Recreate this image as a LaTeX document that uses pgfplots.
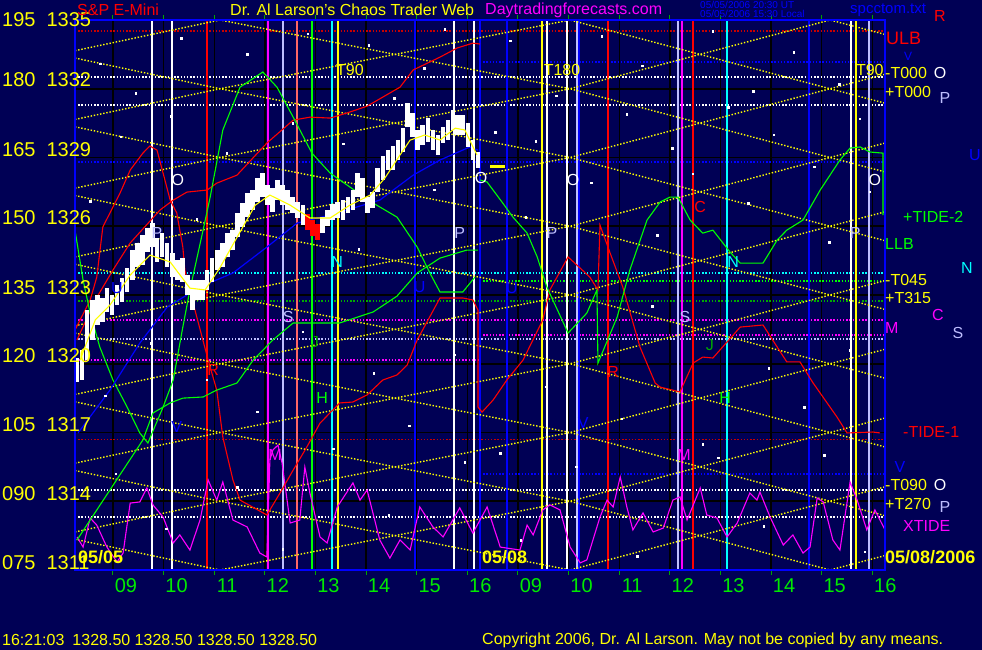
\documentclass[border=0pt]{standalone}
\usepackage{fontspec}
\setmainfont{Liberation Sans}
\usepackage{pgfplots}
\pgfplotsset{compat=1.18}

\definecolor{bg}{RGB}{0,0,85}
\definecolor{yel}{RGB}{255,255,0}
\definecolor{grid}{RGB}{0,165,0}
\definecolor{bgrn}{RGB}{0,255,0}
\definecolor{hgrn}{RGB}{0,235,0}
\definecolor{rd}{RGB}{255,0,0}
\definecolor{drd}{RGB}{200,0,0}
\definecolor{mag}{RGB}{255,0,255}
\definecolor{cy}{RGB}{0,255,255}
\definecolor{lav}{RGB}{190,190,255}
\definecolor{bl}{RGB}{0,0,255}
\definecolor{dgrn}{RGB}{0,170,0}

\tikzset{
  dots/.style={line width=1.4pt, dash pattern=on 1.4pt off 1.8pt},
  big/.style={font=\fontsize{20}{20}\selectfont, inner sep=0pt},
  mid/.style={font=\fontsize{16}{16}\selectfont, inner sep=0pt},
  sml/.style={font=\fontsize{10}{10}\selectfont, inner sep=0pt},
}

\begin{document}
\begin{tikzpicture}[x=1pt,y=1pt]
\fill[bg] (0,0) rectangle (982,650);
\useasboundingbox (0,0) rectangle (982,650);

\begin{axis}[
  at={(75pt,80pt)}, anchor=south west,
  width=810pt, height=550pt, scale only axis,
  xmin=0, xmax=16, ymin=1311, ymax=1335,
  axis line style={bl, line width=2.5pt},
  axis on top,
  ytick=\empty,
  xtick={0.75,1.75,2.75,3.75,4.75,5.75,6.75,7.75,8.75,9.75,10.75,11.75,12.75,13.75,14.75,15.75},
  xticklabels={09,10,11,12,13,14,15,16,09,10,11,12,13,14,15,16},
  xticklabel style={text=hgrn, font=\fontsize{20}{20}\selectfont, xshift=13pt},
  tick align=outside, major tick length=5pt,
  xtick style={draw=grid, line width=1pt},
]

% horizontal grid
\addplot[xcomb, grid, line width=1.6pt, forget plot] coordinates {
 (16,1314)(16,1317)(16,1320)(16,1323)(16,1326)(16,1329)(16,1332)};
% vertical hour lines
\addplot[ycomb, grid, line width=1.4pt, forget plot] coordinates {
 (0.75,1335)(1.75,1335)(2.75,1335)(3.75,1335)(4.75,1335)(5.75,1335)(6.75,1335)(7.75,1335)
 (8.75,1335)(9.75,1335)(10.75,1335)(11.75,1335)(12.75,1335)(13.75,1335)(14.75,1335)(15.75,1335)};

% horizontal dotted levels
\addplot[xcomb, drd, dots, forget plot] coordinates {(16,1334.52)(16,1316.7)};
\addplot[xcomb, white, dots, forget plot] coordinates {(16,1332.51)(16,1331.29)(16,1314.49)(16,1313.31)};
\addplot[xcomb, bl, dots, forget plot] coordinates {(16,1328.80)};
\addplot[xcomb, cy, dots, forget plot] coordinates {(16,1323.96)};
\addplot[xcomb, dgrn, dots, forget plot] coordinates {(16,1322.74)};
\addplot[xcomb, mag, dots, forget plot] coordinates {(16,1321.91)};
\addplot[xcomb, lav, dots, forget plot] coordinates {(16,1321.08)};
\addplot[mag, dots, forget plot] coordinates {(0,1320.16)(8,1320.16)};
\addplot[mag, dots, forget plot] coordinates {(8,1321.25)(16,1321.25)};
\addplot[bl, dots, forget plot] coordinates {(8,1333.16)(16,1333.16)};
\addplot[bl, dots, forget plot] coordinates {(8,1315.19)(16,1315.19)};
\addplot[bgrn, dots, forget plot] coordinates {(8,1323.61)(16,1323.61)};

% vertical event lines
\addplot[ycomb, white, line width=1.3pt, forget plot] coordinates {(1.521,1335)(1.916,1335)(7.486,1335)(7.881,1335)(9.323,1335)(9.719,1335)(15.328,1335)};
\addplot[ycomb, lav, line width=1.3pt, forget plot] coordinates {(4.109,1335)(9.916,1335)(11.911,1335)(15.684,1335)};
\addplot[ycomb, rd, line width=1.3pt, forget plot] coordinates {(2.607,1335)(10.528,1335)(12.207,1335)};
\addplot[ycomb, rd!60!white, line width=1.3pt, forget plot] coordinates {(4.385,1335)};
\addplot[ycomb, mag, line width=1.3pt, forget plot] coordinates {(3.812,1335)(11.99,1335)};
\addplot[ycomb, bgrn, line width=1.3pt, forget plot] coordinates {(4.681,1335)};
\addplot[ycomb, cy, line width=1.3pt, forget plot] coordinates {(5.077,1335)(12.879,1335)};
\addplot[ycomb, yel, line width=1.3pt, forget plot] coordinates {(5.195,1335)(9.225,1335)(15.427,1335)};
\addplot[ycomb, bl, line width=1.3pt, forget plot] coordinates {(6.716,1335)(8.533,1335)(9.956,1335)(14.499,1335)};
\addplot[ycomb, bl, line width=2.5pt, forget plot] coordinates {(8.0,1335)};

% angle lattice, falling family
\addplot[yel, dots, forget plot] coordinates {(0,1312.34)(2.864,1311)(9.778,1308)(14.914,1305)(16,1304.37)};
\addplot[yel, dots, forget plot] coordinates {(0,1315.34)(2.864,1314)(9.778,1311)(14.914,1308)(16,1307.37)};
\addplot[yel, dots, forget plot] coordinates {(0,1318.34)(2.864,1317)(9.778,1314)(14.914,1311)(16,1310.37)};
\addplot[yel, dots, forget plot] coordinates {(0,1321.34)(2.864,1320)(9.778,1317)(14.914,1314)(16,1313.37)};
\addplot[yel, dots, forget plot] coordinates {(0,1324.34)(2.864,1323)(9.778,1320)(14.914,1317)(16,1316.37)};
\addplot[yel, dots, forget plot] coordinates {(0,1327.34)(2.864,1326)(9.778,1323)(14.914,1320)(16,1319.37)};
\addplot[yel, dots, forget plot] coordinates {(0,1330.34)(2.864,1329)(9.778,1326)(14.914,1323)(16,1322.37)};
\addplot[yel, dots, forget plot] coordinates {(0,1333.34)(2.864,1332)(9.778,1329)(14.914,1326)(16,1325.37)};
\addplot[yel, dots, forget plot] coordinates {(0,1336.34)(2.864,1335)(9.778,1332)(14.914,1329)(16,1328.37)};
\addplot[yel, dots, forget plot] coordinates {(0,1339.34)(2.864,1338)(9.778,1335)(14.914,1332)(16,1331.37)};
\addplot[yel, dots, forget plot] coordinates {(0,1342.34)(2.864,1341)(9.778,1338)(14.914,1335)(16,1334.37)};
% angle lattice, rising family
\addplot[yel, dots, forget plot] coordinates {(0,1303.66)(2.864,1305)(9.778,1308)(14.914,1311)(16,1311.63)};
\addplot[yel, dots, forget plot] coordinates {(0,1306.66)(2.864,1308)(9.778,1311)(14.914,1314)(16,1314.63)};
\addplot[yel, dots, forget plot] coordinates {(0,1309.66)(2.864,1311)(9.778,1314)(14.914,1317)(16,1317.63)};
\addplot[yel, dots, forget plot] coordinates {(0,1312.66)(2.864,1314)(9.778,1317)(14.914,1320)(16,1320.63)};
\addplot[yel, dots, forget plot] coordinates {(0,1315.66)(2.864,1317)(9.778,1320)(14.914,1323)(16,1323.63)};
\addplot[yel, dots, forget plot] coordinates {(0,1318.66)(2.864,1320)(9.778,1323)(14.914,1326)(16,1326.63)};
\addplot[yel, dots, forget plot] coordinates {(0,1321.66)(2.864,1323)(9.778,1326)(14.914,1329)(16,1329.63)};
\addplot[yel, dots, forget plot] coordinates {(0,1324.66)(2.864,1326)(9.778,1329)(14.914,1332)(16,1332.63)};
\addplot[yel, dots, forget plot] coordinates {(0,1327.66)(2.864,1329)(9.778,1332)(14.914,1335)(16,1335.63)};
\addplot[yel, dots, forget plot] coordinates {(0,1330.66)(2.864,1332)(9.778,1335)(14.914,1338)(16,1338.63)};
\addplot[yel, dots, forget plot] coordinates {(0,1333.66)(2.864,1335)(9.778,1338)(14.914,1341)(16,1341.63)};

% background stars
\addplot[only marks, mark=square*, mark size=0.8pt, white, forget plot] coordinates {
(0.5,1333.1)(1.2,1331.8)(2.1,1334.2)(3.4,1333.5)(4.6,1334.4)(5.8,1333.9)(6.9,1332.9)(7.3,1334.6)(8.6,1334.1)(9.5,1331.7)(10.4,1334.3)(11.2,1333.0)(12.6,1334.5)(13.4,1331.9)(14.2,1333.6)(15.1,1332.2)
(0.9,1329.9)(1.9,1330.8)(3.0,1329.2)(4.3,1330.5)(5.3,1329.6)(6.3,1331.6)(8.3,1330.1)(9.1,1329.7)(10.9,1330.9)(11.8,1329.4)(12.9,1331.2)(13.8,1330.0)(14.6,1328.6)(15.5,1330.7)
(0.3,1327.1)(2.4,1326.3)(5.6,1325.0)(7.1,1327.6)(8.9,1326.4)(10.2,1327.9)(11.5,1325.6)(12.2,1328.3)(13.3,1327.0)(14.9,1325.3)(15.7,1327.5)
(0.6,1318.6)(1.5,1320.9)(2.6,1319.3)(3.6,1317.9)(4.5,1321.4)(5.9,1319.6)(6.6,1317.3)(7.5,1320.4)(8.4,1316.1)(9.3,1319.0)(10.8,1317.6)(11.4,1322.5)(12.4,1316.5)(13.7,1319.8)(14.4,1318.1)(15.3,1320.6)
(0.8,1315.2)(1.8,1312.8)(3.2,1314.6)(4.1,1311.9)(5.1,1316.3)(6.2,1313.4)(7.7,1315.7)(8.8,1312.3)(9.9,1315.5)(11.1,1311.6)(12.7,1315.9)(13.6,1312.9)(14.8,1316.0)(15.6,1311.8)};

% XTIDE
\addplot[mag, line width=1.1pt, forget plot] coordinates {
(0.04,1312.44)(0.16,1312.00)(0.30,1313.27)(0.43,1312.96)(0.63,1312.00)(0.83,1311.35)(0.95,1311.74)(1.09,1313.92)(1.28,1313.97)(1.42,1314.58)(1.54,1313.84)(1.74,1313.31)(1.94,1312.18)(2.07,1312.53)(2.27,1311.87)(2.47,1313.18)(2.63,1314.93)(2.80,1314.05)(2.92,1314.84)(3.12,1313.18)(3.40,1312.88)(3.65,1311.74)(3.79,1311.57)(3.85,1315.80)(3.91,1316.24)(4.01,1316.45)(4.09,1315.67)(4.25,1313.05)(4.44,1313.18)(4.54,1315.49)(4.64,1314.36)(4.84,1312.44)(4.98,1312.18)(5.18,1313.75)(5.49,1314.80)(5.63,1314.05)(5.77,1314.49)(6.02,1312.31)(6.22,1311.52)(6.42,1312.31)(6.62,1311.87)(6.81,1313.75)(7.07,1312.88)(7.27,1312.44)(7.60,1313.71)(7.86,1312.61)(8.14,1313.75)(8.40,1312.00)(8.79,1311.87)(8.93,1312.96)(9.05,1312.53)(9.24,1313.62)(9.38,1313.84)(9.58,1313.62)(9.78,1312.00)(9.98,1311.31)(10.11,1311.44)(10.37,1313.31)(10.51,1314.05)(10.63,1313.75)(10.77,1315.06)(10.90,1313.75)(11.02,1312.75)(11.22,1313.49)(11.42,1312.66)(11.62,1312.83)(11.81,1314.05)(11.95,1314.19)(12.09,1313.18)(12.35,1314.58)(12.48,1313.40)(12.68,1313.27)(12.88,1312.44)(13.08,1313.05)(13.33,1314.36)(13.47,1314.05)(13.53,1314.40)(13.73,1313.31)(13.99,1312.09)(14.18,1312.53)(14.38,1311.74)(14.52,1312.00)(14.66,1314.14)(14.78,1313.97)(14.97,1312.31)(15.11,1311.87)(15.31,1314.84)(15.45,1314.05)(15.64,1312.75)(15.80,1313.62)(16.00,1312.75)};

% slow red line
\addplot[rd, line width=1.1pt, forget plot] coordinates {
(0.04,1321.04)(0.40,1322.78)(0.75,1324.09)(1.09,1325.27)(1.68,1326.71)(1.94,1327.14)(2.21,1327.49)(2.61,1327.58)(2.80,1327.88)(3.20,1328.23)(3.79,1329.63)(4.31,1330.63)(4.64,1330.76)(5.04,1330.72)(5.37,1330.94)(5.77,1331.24)(6.42,1332.07)(6.68,1332.82)(7.21,1333.38)(7.55,1333.78)(7.86,1333.99)(8.00,1333.95)};

% TIDE-1
\addplot[rd, line width=1.1pt, forget plot] coordinates {
(0,1321.47)(0.30,1322.78)(0.43,1323.78)(0.55,1325.97)(0.89,1327.45)(1.09,1328.45)(1.34,1329.19)(1.48,1329.50)(1.62,1329.32)(1.74,1328.32)(1.88,1327.14)(2.01,1326.58)(2.13,1325.09)(2.17,1324.09)(2.37,1322.34)(2.63,1320.16)(2.80,1318.85)(2.92,1316.80)(3.12,1314.93)(3.26,1314.05)(3.79,1313.40)(4.05,1314.36)(4.31,1315.36)(4.58,1316.37)(4.84,1317.41)(5.23,1318.29)(5.49,1318.33)(5.77,1318.64)(6.08,1319.29)(6.36,1319.51)(6.56,1319.94)(6.76,1321.04)(7.21,1322.87)(7.66,1322.87)(7.86,1322.78)(7.96,1322.34)(7.96,1318.11)(8.04,1317.89)(8.26,1318.42)(8.53,1319.29)(8.85,1320.16)(9.24,1321.91)(9.38,1323.22)(9.74,1324.66)(10.17,1323.78)(10.33,1323.22)(10.37,1326.05)(10.57,1324.83)(10.82,1323.35)(11.16,1320.73)(11.46,1319.16)(11.56,1318.98)(11.95,1318.77)(12.21,1320.03)(12.40,1320.29)(12.60,1320.25)(13.14,1321.60)(13.59,1321.69)(14.06,1320.08)(14.32,1320.08)(14.58,1319.16)(15.05,1317.68)(15.25,1316.98)(15.76,1317.02)(15.90,1316.98)};

% TIDE-2 and companions
\addplot[bgrn, line width=1.1pt, forget plot] coordinates {
(0,1325.83)(0.16,1323.65)(0.30,1322.21)(0.49,1320.73)(0.75,1319.29)(1.03,1318.11)(1.28,1316.98)(1.44,1316.54)(1.74,1318.11)(1.94,1319.29)(2.13,1321.60)(2.27,1323.22)(2.53,1325.83)(2.67,1327.27)(2.92,1330.20)(3.26,1332.07)(3.71,1332.73)(3.99,1332.07)(4.31,1330.76)(4.68,1329.19)(5.04,1328.32)(5.43,1327.71)(5.89,1327.01)(6.36,1326.40)(6.76,1325.09)(7.01,1323.96)(7.21,1323.13)(7.66,1323.13)(7.90,1323.78)};
\addplot[bgrn, line width=1.1pt, forget plot] coordinates {
(0.04,1312.31)(1.34,1316.67)(1.54,1317.85)(1.88,1318.29)(2.13,1318.50)(2.53,1318.55)(2.80,1318.85)(3.20,1319.16)(3.52,1320.16)(3.91,1321.04)(4.31,1321.78)(5.23,1321.78)(5.89,1322.26)(6.36,1322.95)(6.76,1323.96)(7.21,1324.61)(7.74,1324.96)(7.96,1324.96)};
\addplot[bgrn, line width=1.1pt, forget plot] coordinates {
(8.00,1328.02)(8.14,1327.93)(8.45,1327.01)(8.65,1326.40)(8.93,1325.70)(9.13,1324.66)(9.32,1323.35)(9.74,1321.34)(10.11,1322.21)(10.31,1323.22)(10.33,1320.03)(10.71,1322.04)(10.96,1324.09)(11.30,1326.27)(11.56,1327.06)(11.75,1327.27)(11.91,1327.27)(12.15,1326.27)(12.40,1325.70)(12.60,1325.83)(12.94,1324.87)(13.14,1324.39)(13.59,1324.39)(13.87,1325.40)(14.06,1325.83)(14.38,1326.27)(14.72,1327.58)(15.11,1328.89)(15.31,1329.41)(15.51,1329.46)(15.70,1329.24)(15.96,1329.19)(15.96,1326.49)};

% averages
\addplot[bl, line width=1.2pt, forget plot] coordinates {
(0.06,1316.98)(0.69,1318.85)(1.28,1320.90)(1.82,1322.47)(2.47,1323.35)(3.12,1323.96)(3.79,1325.09)(4.39,1326.14)(5.04,1326.49)(6.02,1327.14)(6.68,1328.23)(7.21,1328.89)(7.80,1329.46)(7.96,1329.32)};

% price bars
\addplot[draw=none, mark=none, forget plot, error bars/.cd, y dir=both, y explicit,
  error bar style={white, line width=4.6pt}, error mark=none] coordinates {
(0.04,1319.73)+-(0,0.52) (0.14,1319.94)+-(0,0.65) (0.24,1321.25)+-(0,1.09) (0.34,1321.91)+-(0,0.87)
(0.44,1322.34)+-(0,0.65) (0.54,1322.34)+-(0,0.52) (0.63,1322.78)+-(0,0.52) (0.73,1322.56)+-(0,0.44)
(0.83,1323.00)+-(0,0.44) (0.93,1323.22)+-(0,0.52) (1.03,1323.65)+-(0,0.52) (1.13,1324.31)+-(0,0.65)
(1.23,1324.74)+-(0,0.52) (1.33,1324.96)+-(0,0.65) (1.43,1325.40)+-(0,0.52) (1.53,1325.62)+-(0,0.52)
(1.62,1324.96)+-(0,0.52) (1.72,1325.18)+-(0,0.52) (1.82,1324.74)+-(0,0.52) (1.92,1324.31)+-(0,0.52)
(2.02,1324.09)+-(0,0.44) (2.12,1324.09)+-(0,0.52) (2.22,1323.43)+-(0,0.44) (2.32,1323.00)+-(0,0.65)
(2.42,1323.22)+-(0,0.44) (2.52,1323.22)+-(0,0.44) (2.61,1323.65)+-(0,0.44) (2.71,1324.09)+-(0,0.52)
(2.81,1324.53)+-(0,0.44) (2.91,1324.74)+-(0,0.52) (3.01,1325.18)+-(0,0.52) (3.11,1325.40)+-(0,0.44)
(3.21,1326.05)+-(0,0.52) (3.31,1326.49)+-(0,0.52) (3.41,1326.92)+-(0,0.52) (3.51,1327.14)+-(0,0.44)
(3.60,1327.58)+-(0,0.52) (3.70,1327.80)+-(0,0.52) (3.80,1327.36)+-(0,0.44) (3.90,1327.14)+-(0,0.52)
(4.00,1327.58)+-(0,0.44) (4.10,1327.36)+-(0,0.44) (4.20,1327.14)+-(0,0.44) (4.30,1326.92)+-(0,0.35)
(4.40,1326.71)+-(0,0.35) (4.50,1326.49)+-(0,0.44)
(4.89,1326.05)+-(0,0.35) (4.99,1326.36)+-(0,0.35) (5.09,1326.62)+-(0,0.35) (5.19,1326.71)+-(0,0.35)
(5.29,1326.71)+-(0,0.44) (5.39,1326.92)+-(0,0.35) (5.49,1327.14)+-(0,0.44) (5.58,1327.80)+-(0,0.52)
(5.68,1327.58)+-(0,0.52) (5.78,1326.92)+-(0,0.35) (5.88,1327.14)+-(0,0.35) (5.98,1328.02)+-(0,0.52)
(6.08,1328.54)+-(0,0.52) (6.18,1328.89)+-(0,0.44) (6.28,1328.98)+-(0,0.52) (6.38,1329.32)+-(0,0.44)
(6.48,1329.76)+-(0,0.52) (6.57,1330.85)+-(0,0.52) (6.67,1330.42)+-(0,0.52) (6.77,1329.76)+-(0,0.44)
(6.87,1329.98)+-(0,0.44) (6.97,1330.20)+-(0,0.52) (7.07,1329.76)+-(0,0.44) (7.17,1329.54)+-(0,0.44)
(7.27,1329.98)+-(0,0.35) (7.37,1330.20)+-(0,0.44) (7.47,1330.63)+-(0,0.44) (7.56,1330.42)+-(0,0.44)
(7.66,1330.42)+-(0,0.44) (7.76,1329.98)+-(0,0.52) (7.86,1329.32)+-(0,0.44) (7.96,1328.89)+-(0,0.35)};
\addplot[draw=none, mark=none, forget plot, error bars/.cd, y dir=both, y explicit,
  error bar style={rd, line width=4.6pt}, error mark=none] coordinates {
(4.59,1326.18)+-(0,0.35) (4.69,1325.92)+-(0,0.35) (4.79,1325.75)+-(0,0.35)};

\addplot[yel, line width=1.1pt, forget plot] coordinates {
(0.10,1320.16)(0.40,1321.91)(0.69,1322.56)(1.09,1323.87)(1.48,1324.74)(1.88,1324.44)(2.27,1323.30)(2.57,1323.22)(2.86,1324.18)(3.26,1325.75)(3.56,1326.92)(3.85,1327.36)(4.25,1326.92)(4.64,1326.36)(5.04,1326.36)(5.43,1326.92)(5.83,1327.36)(6.12,1328.10)(6.42,1329.11)(6.62,1329.76)(6.91,1329.98)(7.21,1329.76)(7.51,1330.28)(7.70,1330.20)(7.94,1329.11)};
\addplot[yel, line width=2.5pt, forget plot] coordinates {(8.2,1328.6)(8.5,1328.6)};

% in-chart marks
\node[mid, text=yel] at (axis cs:5.43,1332.82) {T90};
\node[mid, text=yel] at (axis cs:9.62,1332.82) {T180};
\node[mid, text=yel] at (axis cs:15.70,1332.82) {T90};
\node[mid, text=white] at (axis cs:2.03,1328.02) {O};
\node[mid, text=white] at (axis cs:9.84,1328.02) {O};
\node[mid, text=white] at (axis cs:15.80,1328.02) {O};
\node[mid, text=white] at (axis cs:8.02,1328.10) {O};
\node[mid, text=lav] at (axis cs:1.62,1325.70) {P};
\node[mid, text=lav] at (axis cs:7.60,1325.70) {P};
\node[mid, text=lav] at (axis cs:9.42,1325.70) {P};
\node[mid, text=lav] at (axis cs:15.41,1325.70) {P};
\node[mid, text=bl] at (axis cs:0.83,1323.30) {U};
\node[mid, text=bl] at (axis cs:6.81,1323.35) {U};
\node[mid, text=bl] at (axis cs:8.63,1323.30) {U};
\node[mid, text=bl] at (axis cs:2.01,1317.24) {V};
\node[mid, text=bl] at (axis cs:10.04,1317.41) {V};
\node[mid, text=rd] at (axis cs:2.73,1319.73) {R};
\node[mid, text=rd] at (axis cs:10.63,1319.64) {R};
\node[mid, text=lav] at (axis cs:4.21,1322.04) {S};
\node[mid, text=lav] at (axis cs:12.05,1322.04) {S};
\node[mid, text=bgrn] at (axis cs:4.88,1318.50) {H};
\node[mid, text=bgrn] at (axis cs:12.84,1318.50) {H};
\node[mid, text=dgrn] at (axis cs:4.74,1320.95) {J};
\node[mid, text=dgrn] at (axis cs:12.54,1320.82) {J};
\node[mid, text=cy] at (axis cs:5.18,1324.44) {N};
\node[mid, text=cy] at (axis cs:13.00,1324.44) {N};
\node[mid, text=rd] at (axis cs:12.35,1326.84) {C};
\node[mid, text=mag] at (axis cs:3.95,1316.02) {M};
\node[mid, text=mag] at (axis cs:12.03,1316.02) {M};
\end{axis}

% price scale
\foreach \py/\a/\b in {20/195/1335, 80/180/1332, 150/165/1329, 218/150/1326, 288/135/1323, 356/120/1320, 425/105/1317, 494/090/1314, 563/075/1311}
  \node[big, text=yel, anchor=west] at (2,650-\py) {\a\hspace{11pt}\b};

% titles
\node[mid, text=rd, anchor=west] at (77,640) {S\&P E-Mini};
\node[mid, text=yel, anchor=west] at (230,640) {Dr. Al Larson's Chaos Trader Web};
\node[mid, text=mag, anchor=west] at (485,640) {Daytradingforecasts.com};
\node[sml, text=bl, anchor=west] at (700,645) {05/05/2006 20:30 UT};
\node[sml, text=bl, anchor=west] at (700,636) {05/05/2006 15:30 Local};
\node[font=\fontsize{15}{15}\selectfont, inner sep=0pt, text=bl, anchor=west] at (850,640) {spcctom.txt};
\node[mid, text=rd] at (940,634) {R};

% date marks
\node[font=\fontsize{18}{18}\selectfont\bfseries, inner sep=0pt, text=yel, anchor=west] at (78,93) {05/05};
\node[font=\fontsize{18}{18}\selectfont\bfseries, inner sep=0pt, text=yel, anchor=west] at (482,93) {05/08};
\node[font=\fontsize{18}{18}\selectfont\bfseries, inner sep=0pt, text=yel, anchor=west] at (885,93) {05/08/2006};

% right side legend
\node[font=\fontsize{18}{18}\selectfont, inner sep=0pt, text=rd, anchor=west] at (886,612) {ULB};
\node[font=\fontsize{12}{12}\selectfont, inner sep=0pt, text=bl] at (908,594) {V};
\node[mid, text=yel, anchor=west] at (885,577) {-T000};
\node[mid, text=white] at (940,577) {O};
\node[mid, text=yel, anchor=west] at (885,558) {+T000};
\node[mid, text=lav] at (945,552) {P};
\node[mid, text=bl] at (975,495) {U};
\node[mid, text=bgrn, anchor=west] at (903,433) {+TIDE-2};
\node[mid, text=bgrn, anchor=west] at (885,406) {LLB};
\node[mid, text=cy] at (967,382) {N};
\node[mid, text=yel, anchor=west] at (885,370) {-T045};
\node[mid, text=yel, anchor=west] at (885,352) {+T315};
\node[mid, text=mag] at (938,335) {C};
\node[mid, text=mag, anchor=west] at (885,322) {M};
\node[mid, text=lav] at (958,317) {S};
\node[mid, text=rd, anchor=west] at (903,218) {-TIDE-1};
\node[mid, text=bl] at (900,183) {V};
\node[mid, text=yel, anchor=west] at (885,165) {-T090};
\node[mid, text=white] at (940,165) {O};
\node[mid, text=yel, anchor=west] at (885,146) {+T270};
\node[mid, text=lav] at (945,143) {P};
\node[mid, text=mag, anchor=west] at (903,124) {XTIDE};

% footer
\node[mid, text=yel, anchor=west] at (2,10) {16:21:03\hspace{8pt}1328.50 1328.50 1328.50 1328.50};
\node[mid, text=yel, anchor=west] at (482,10) {Copyright 2006, Dr. Al Larson. May not be copied by any means.};
\end{tikzpicture}
\end{document}
